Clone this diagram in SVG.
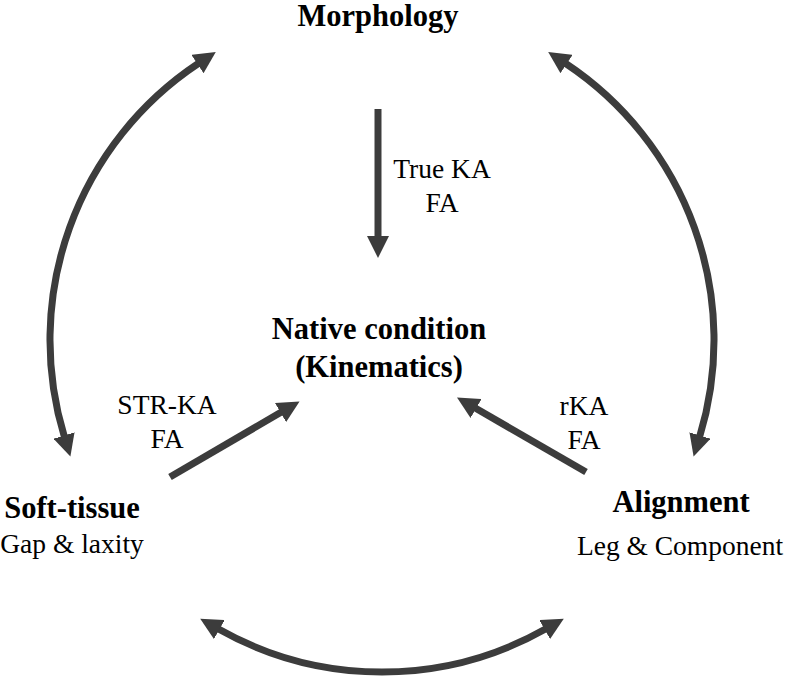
<svg xmlns="http://www.w3.org/2000/svg" width="786" height="677" viewBox="0 0 786 677">
<style>
.t{font-family:"Liberation Serif","Times New Roman",serif;fill:#000;text-anchor:middle}
.b{font-weight:bold;font-size:30.5px}
.r{font-size:27.5px}
.c{fill:none;stroke:#3c3c3c;stroke-width:7}
</style>
<defs>
<marker id="ah" viewBox="0 0 22 22" markerWidth="22" markerHeight="22" markerUnits="userSpaceOnUse" refX="1" refY="11" orient="auto-start-reverse">
<path d="M0,0 L22,11 L0,22 z" fill="#3c3c3c"/>
</marker>
</defs>
<rect width="786" height="677" fill="#fff"/>
<g id="connectors">
<path class="c" d="M198.3,63.5 A332,332 0 0 0 64.3,436.5" marker-start="url(#ah)" marker-end="url(#ah)"/>
<path class="c" d="M565.7,63.5 A332,332 0 0 1 699.7,436.5" marker-start="url(#ah)" marker-end="url(#ah)"/>
<path class="c" d="M218.5,629 A332,332 0 0 0 545.5,629" marker-start="url(#ah)" marker-end="url(#ah)"/>
<path class="c" d="M378,109 L378,237" marker-end="url(#ah)"/>
<path class="c" d="M170,477 L281.4,412.1" marker-end="url(#ah)"/>
<path class="c" d="M586,472 L475.2,408" marker-end="url(#ah)"/>
</g>
<g id="morphology"><text class="t b" x="378" y="26">Morphology</text></g>
<g id="native"><text class="t b" x="379" y="339">Native condition</text><text class="t b" x="379" y="377">(Kinematics)</text></g>
<g id="softtissue"><text class="t b" x="72" y="518">Soft-tissue</text><text class="t r" x="72" y="553">Gap &amp; laxity</text></g>
<g id="alignment"><text class="t b" x="681" y="512">Alignment</text><text class="t r" x="680" y="555">Leg &amp; Component</text></g>
<g id="label-true"><text class="t r" x="442" y="178">True KA</text><text class="t r" x="442" y="212">FA</text></g>
<g id="label-str"><text class="t r" x="167" y="414">STR-KA</text><text class="t r" x="167" y="448">FA</text></g>
<g id="label-rka"><text class="t r" x="584" y="415">rKA</text><text class="t r" x="584" y="449">FA</text></g>
</svg>
